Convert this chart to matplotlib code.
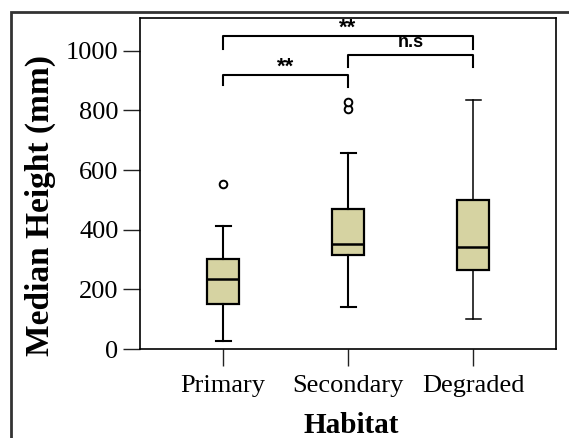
import matplotlib
matplotlib.use("Agg")
import matplotlib.pyplot as plt
from matplotlib.patches import Rectangle

# values (mm)
habitats = ["Primary", "Secondary", "Degraded"]
whisker_low = [27, 140, 101]
q1 = [150, 314, 265]
median = [236, 351, 343]
q3 = [302, 469, 499]
whisker_high = [413, 657, 834]
outliers = [[552], [805, 829], []]

# significance brackets: (left box, right box, bar height, left leg end, right leg end, label)
brackets = [
    (1, 2, 918, 885, 877, "**"),
    (2, 3, 985, 946, 946, "n.s"),
    (1, 3, 1049, 1005, 1005, "**"),
]

W, H = 569, 438
fig = plt.figure(figsize=(W / 100, H / 100), dpi=100)
ax = fig.add_axes([140 / W, 1 - 349 / H, (556 - 140) / W, (349 - 17.6) / H])

stats = []
for i, name in enumerate(habitats):
    stats.append(dict(label=name, whislo=whisker_low[i], q1=q1[i], med=median[i],
                      q3=q3[i], whishi=whisker_high[i], fliers=outliers[i]))

bp = ax.bxp(stats, positions=[1, 2, 3], widths=0.256, patch_artist=True,
            capwidths=0.12,
            boxprops=dict(facecolor="#d6d3a2", edgecolor="black", linewidth=1.6),
            medianprops=dict(color="black", linewidth=1.8),
            whiskerprops=dict(color="black", linewidth=1.5),
            capprops=dict(color="black", linewidth=1.5),
            flierprops=dict(marker="o", markerfacecolor="white", markeredgecolor="black",
                            markersize=5.5, markeredgewidth=1.4))
# the third box is drawn with slightly thinner whiskers
for line in bp["whiskers"][4:] + bp["caps"][4:]:
    line.set_linewidth(1.1)

ax.set_xlim(0.336, 3.664)
ax.set_ylim(0, 1111)
ax.set_yticks([0, 200, 400, 600, 800, 1000])

serif = ["Liberation Serif", "DejaVu Serif"]
for lab in ax.get_xticklabels() + ax.get_yticklabels():
    lab.set_family(serif)
    lab.set_fontsize(19)
ax.tick_params(length=12.5, width=1.0, color="#222222", pad=3)
ax.tick_params(axis="x", pad=6)
for s in ax.spines.values():
    s.set_linewidth(1.2)

sans = ["Liberation Sans", "DejaVu Sans"]
for a, b, y, la, lb, txt in brackets:
    ax.plot([a, a, b, b], [la, y, y, lb], color="black", lw=1.5, clip_on=False)
    if txt == "**":
        ax.text((a + b) / 2, y + 8, txt, ha="center", va="baseline",
                family=sans, fontweight="bold", fontsize=16)
    else:
        ax.text((a + b) / 2, y + 27, txt, ha="center", va="baseline",
                family=sans, fontweight="bold", fontsize=13)

fig.text(351 / W, 1 - 433 / H, "Habitat", ha="center", va="baseline",
         family=serif, fontweight="bold", fontsize=21)
fig.text(40 / W, 1 - 205 / H, "Median Height (mm)", ha="center", va="center",
         rotation=90, family=serif, fontweight="bold", fontsize=24)

# outer frame that runs off the right and bottom edges
fig.patches.append(Rectangle((10.5 / W, -0.1), 1.2, 1 - 11.7 / H + 0.1, fill=False,
                             edgecolor="#333333", linewidth=2.0,
                             transform=fig.transFigure, figure=fig))

fig.savefig("out.png", dpi=100)
